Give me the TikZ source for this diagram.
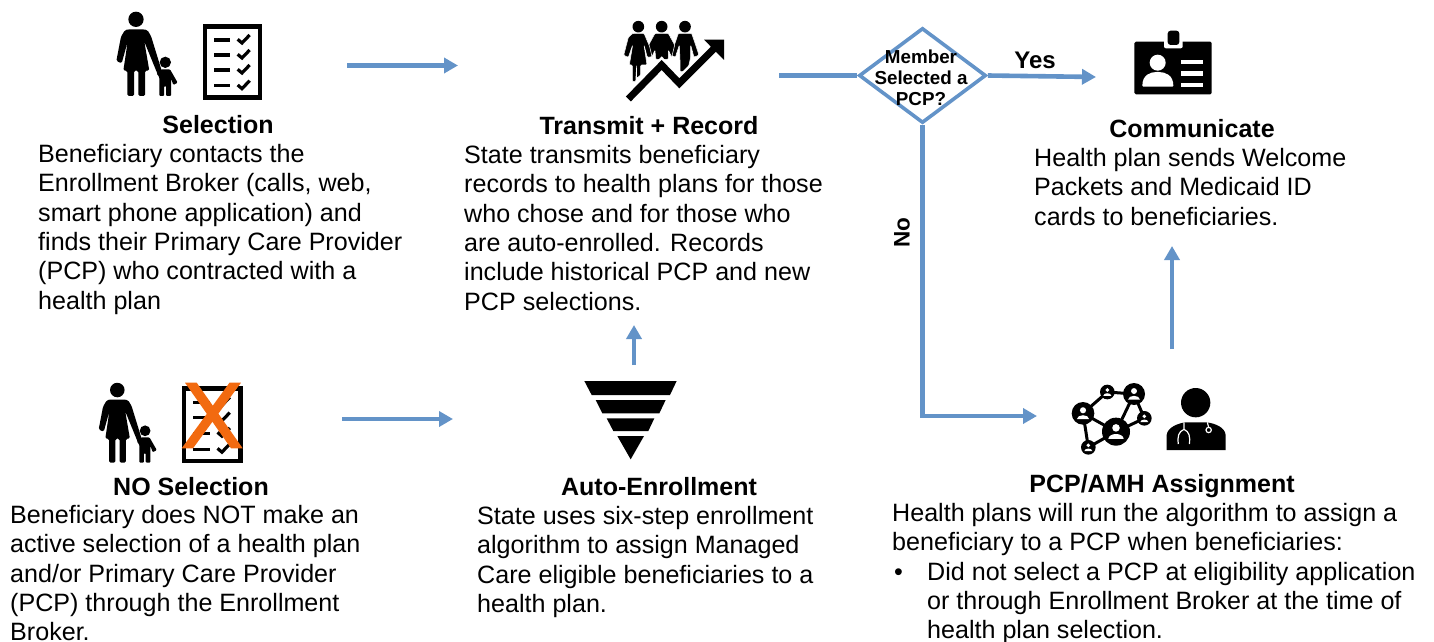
\documentclass[tikz,border=0pt]{standalone}
\usepackage{fontspec}
\setmainfont{Liberation Sans}
\usetikzlibrary{arrows.meta,shapes.geometric}
\definecolor{flow}{HTML}{6393C8}
\definecolor{crossout}{HTML}{F26A10}
\newcommand{\firstln}{\rule{0pt}{18pt}}
\tikzset{
  x=1pt,y=-1pt,
  para/.style={anchor=north west,inner sep=0pt,align=left,font=\fontsize{25.1}{29.35}\selectfont},
  headline/.style={anchor=base,inner sep=0pt,font=\fontsize{25}{28}\selectfont\bfseries},
  flowline/.style={draw=flow,line width=4.6pt},
  flowarrow/.style={flowline,-{Triangle[length=14pt,width=15pt]}},
  decision/.style={draw=flow,line width=3.6pt,diamond,minimum width=0pt,inner sep=0pt},
  pics/family/.style={code={
    \fill (138,58) circle (23);
    \fill[rounded corners=1.5pt] (118,88) -- (105,90) -- (93,110) -- (79,183) -- (95,190) -- (113,125) -- (100,212) -- (112,212) -- (112,288) -- (132,288) -- (132,212) -- (145,212) -- (145,288) -- (165,288) -- (165,212) -- (178,212) -- (163,125) -- (205,228) -- (215,212) -- (183,108) -- (172,90) -- (158,88) -- cycle;
    \fill (226,187) circle (17);
    \fill[rounded corners=1pt] (212,208) -- (240,208) -- (263,248) -- (250,255) -- (243,235) -- (243,288) -- (228,288) -- (228,258) -- (222,258) -- (222,288) -- (208,288) -- (208,232) -- (200,220) -- cycle;
  }},
  pics/checklist/.style={code={
    \draw[line width=4.4pt] (345,79) rectangle (510,292);
    \foreach \yy in {120,165,210,257}{
      \draw[line width=3.1pt] (372,\yy) -- (421,\yy);
      \draw[line width=3.2pt] (443,\yy-2) -- (456,\yy+9) -- (479,\yy-15);
    }
  }}
}
\begin{document}
\begin{tikzpicture}
\useasboundingbox (0,0) rectangle (1434,642);

% ---------- icons ----------
\pic[shift={(90,0)},scale=1/3] {family};
\pic[shift={(90,0)},scale=1/3] {checklist};
\pic[shift={(117.3-0.948*46,390-0.948*19.3)},scale=0.948/3] {family};
\pic[shift={(181.7-0.341*338,386-0.341*72)},scale=0.341] {checklist};
\fill[crossout] (185,382.7) -- (196.7,382.7) -- (242.7,448.3) -- (231,448.3) -- cycle;
\fill[crossout] (229.5,382.7) -- (241,382.7) -- (193,448.3) -- (181.7,448.3) -- cycle;

% transmit icon
\begin{scope}[shift={(600,0)},scale=1/3]
  \foreach \hx in {115,185,255} \fill (\hx,80) circle (17.5);
  \begin{scope}[draw=white,line width=0.5pt,rounded corners=1pt]
  \filldraw (235,100) -- (275,100) -- (297,165) -- (282,172) -- (272,135) -- (272,172) -- (262,215) -- (240,215) -- (240,178) -- (238,135) -- (226,172) -- (213,165) -- cycle;
  \filldraw (165,100) -- (205,100) -- (224,135) -- (215,172) -- (205,150) -- (205,178) -- (167,178) -- (165,150) -- (155,172) -- (146,135) -- cycle;
  \filldraw (98,100) -- (132,100) -- (149,140) -- (156,170) -- (142,172) -- (132,135) -- (141,195) -- (122,195) -- (122,225) -- (110,235) -- (110,195) -- (107,245) -- (97,245) -- (97,195) -- (88,195) -- (98,135) -- (85,172) -- (71,166) -- (85,112) -- cycle;
  \end{scope}
  \draw[white,line width=12pt] (85,295) -- (185,195) -- (238,250) -- (352,136);
  \draw[line width=7pt] (85,297) -- (185,195) -- (238,250) -- (355,133);
  \fill (312,119) -- (372,119) -- (372,180) -- cycle;
\end{scope}

% communicate icon
\begin{scope}[shift={(850,10)},scale=1/3]
  \fill[rounded corners=1.5pt] (853,95) rectangle (1085,253);
  \fill[white,rounded corners=2pt] (942,88) rectangle (998,115);
  \fill[rounded corners=3pt] (953,62) rectangle (988,105);
  \fill[white] (923,158) circle (24);
  \fill[white,rounded corners=1pt] (877,230) .. controls (877,195) and (900,186) .. (923,186) .. controls (946,186) and (970,195) .. (970,230) -- cycle;
  \fill[white] (992,150) rectangle (1060,163);
  \fill[white] (992,184) rectangle (1060,197);
  \fill[white] (992,218) rectangle (1060,231);
\end{scope}

% funnel icon
\begin{scope}[shift={(570,320)},scale=1/3]
  \fill (43,183) -- (320,183) -- (300,225) -- (65,225) -- cycle;
  \fill (77,240) -- (287,240) -- (268,280) -- (97,280) -- cycle;
  \fill (110,295) -- (253,295) -- (235,333) -- (130,333) -- cycle;
  \fill (142,348) -- (222,348) -- (182,418) -- cycle;
\end{scope}

% network icon
\begin{scope}[shift={(1050,370)},scale=1/3]
  \draw[line width=3pt] (99,130) -- (172,66) -- (252,72) -- (198,185) -- (99,130) -- (115,232) -- (198,185) -- (283,145) -- (252,72);
  \foreach \cx/\cy/\rr in {99/130/34,172/66/22,252/72/33,283/145/22,198/185/42,115/232/22}{
    \fill (\cx,\cy) circle (\rr);
    \fill[white] (\cx,\cy-0.27*\rr) circle (0.27*\rr);
    \fill[white] (\cx-0.55*\rr,\cy+0.52*\rr) .. controls (\cx-0.5*\rr,\cy+0.05*\rr) and (\cx+0.5*\rr,\cy+0.05*\rr) .. (\cx+0.55*\rr,\cy+0.52*\rr) -- cycle;
  }
  % doctor
  \fill (437,98) circle (44);
  \fill (350,240) -- (350,195) .. controls (352,172) and (385,160) .. (405,157) -- (470,157) .. controls (495,160) and (525,172) .. (527,195) -- (527,240) -- cycle;
  \draw[white,line width=1.2pt] (402,157) -- (402,178) .. controls (385,185) and (382,200) .. (385,222);
  \draw[white,line width=1.2pt] (402,178) .. controls (418,185) and (421,200) .. (418,222);
  \draw[white,line width=1.2pt] (472,157) -- (476,172);
  \draw[white,line width=1.2pt] (476,180) circle (8);
\end{scope}

% ---------- texts ----------
\node[headline] (selhead) at (218,133) {Selection};
\node[para] (seltext) at (38,144) {\firstln Beneficiary contacts the\\Enrollment Broker (calls, web,\\smart phone application) and\\finds their Primary Care Provider\\(PCP) who contracted with a\\health plan};

\node[headline] (trhead) at (649,134) {Transmit + Record};
\node[para] (trtext) at (464,145) {\firstln State transmits beneficiary\\records to health plans for those\\who chose and for those who\\are auto-enrolled. Records\\include historical PCP and new\\PCP selections.};

\node[headline] (comhead) at (1192,137) {Communicate};
\node[para] (comtext) at (1034,148) {\firstln Health plan sends Welcome\\Packets and Medicaid ID\\cards to beneficiaries.};

\node[headline] (nohead) at (191,495) {NO Selection};
\node[para] (notext) at (10,505) {\firstln Beneficiary does NOT make an\\active selection of a health plan\\and/or Primary Care Provider\\(PCP) through the Enrollment\\Broker.};

\node[headline] (autohead) at (659,495) {Auto-Enrollment};
\node[para] (autotext) at (477,506) {\firstln State uses six-step enrollment\\algorithm to assign Managed\\Care eligible beneficiaries to a\\health plan.};

\node[headline] (pcphead) at (1162,492) {PCP/AMH Assignment};
\node[para] (pcptext) at (892,503) {\firstln Health plans will run the algorithm to assign a\\beneficiary to a PCP when beneficiaries:\\\hspace*{2pt}\makebox[33pt][l]{•}Did not select a PCP at eligibility application\\\hspace*{35pt}or through Enrollment Broker at the time of\\\hspace*{35pt}health plan selection.};

% ---------- flow ----------
\coordinate (a1s) at (347,65.5);
\coordinate (a1e) at (458,65.5);
\draw[flowarrow] (a1s) -- (a1e);
\coordinate (a2s) at (342,419);
\coordinate (a2e) at (453,419);
\draw[flowarrow] (a2s) -- (a2e);
\coordinate (a3s) at (634,365);
\coordinate (a3e) at (634,325);
\draw[flowarrow] (a3s) -- (a3e);
\coordinate (a4s) at (1172,349);
\coordinate (a4e) at (1172,246);
\draw[flowarrow] (a4s) -- (a4e);

\node[decision,minimum width=127pt,minimum height=95pt,aspect=1.34] (dec) at (922.5,75.5) {};
\node[inner sep=0pt,align=center,font=\fontsize{18.8}{21}\selectfont\bfseries] (dectext) at (921,78) {Member\\Selected a\\PCP?};
\coordinate (source) at (779,75.5);
\draw[flowline] (source) -- (dec.west);
\coordinate (yesend) at (1096,77);
\draw[flowarrow] (dec.east) -- (yesend);
\coordinate (noend) at (1037,416);
\draw[flowarrow] (dec.south) -- (dec.south |- noend) -- (noend);
\node[inner sep=0pt,font=\fontsize{24}{28}\selectfont\bfseries] (yes) at (1035,60) {Yes};
\node[inner sep=0pt,rotate=90,font=\fontsize{22.5}{28}\selectfont\bfseries] (no) at (902,233) {No};
\end{tikzpicture}
\end{document}
